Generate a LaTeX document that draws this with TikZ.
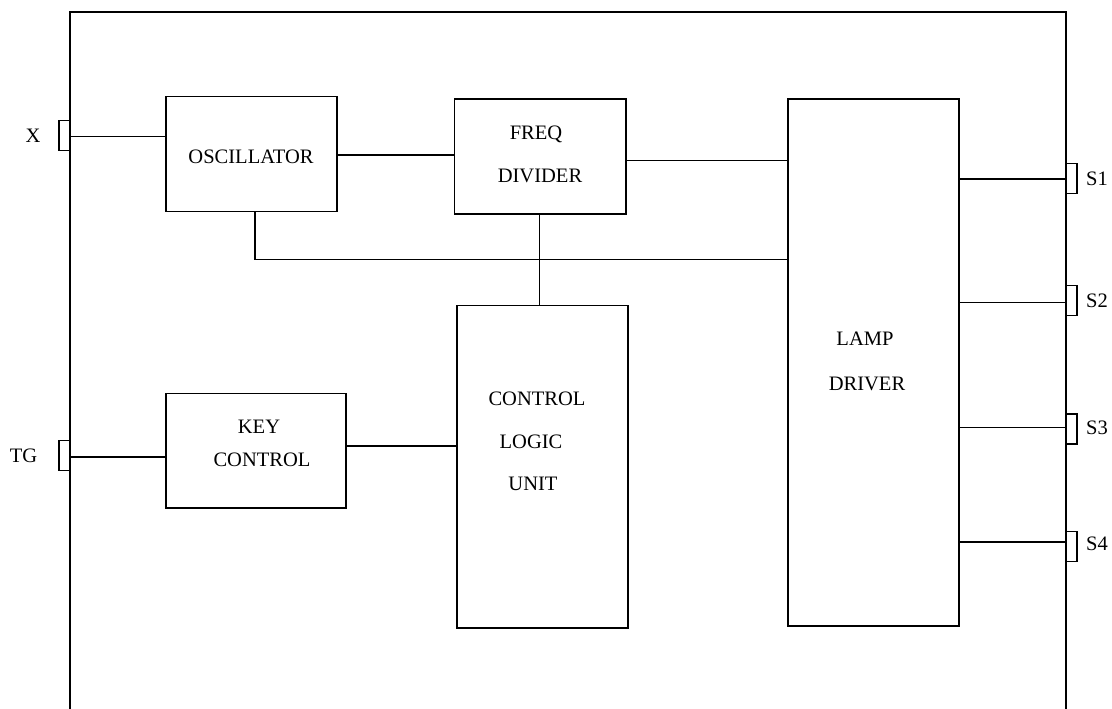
\documentclass[tikz,border=0pt]{standalone}
\usepackage{fontspec}
\setmainfont{Liberation Serif}
\usetikzlibrary{fit}
\begin{document}
\begin{tikzpicture}[x=0.75pt,y=-0.75pt,
  box/.style={draw, line width=1.2pt, inner sep=0pt, outer sep=0pt},
  pin/.style={draw, line width=1.1pt, inner sep=0pt, outer sep=0pt},
  wire/.style={line width=1.2pt},
  txt/.style={inner sep=0pt, text height=10.15pt, text depth=0pt, font=\fontsize{15.4}{18}\selectfont},
  lbl/.style={txt}]
\useasboundingbox (0,0) rectangle (1112,709);
% outer frame
\draw[line width=1.1pt] (70,712) -- (70,12) -- (1066,12) -- (1066,712);
% pins
\node[pin, fit={(59,120.7) (70,150.7)}] (xpin) {};
\node[pin, fit={(59,440.7) (70,470.7)}] (tgpin) {};
\node[pin, fit={(1066,163.3) (1077,193.3)}] (s1pin) {};
\node[pin, fit={(1066,285.7) (1077,315.7)}] (s2pin) {};
\node[pin, fit={(1066,414) (1077,444)}] (s3pin) {};
\node[pin, fit={(1066,531.7) (1077,561.7)}] (s4pin) {};
% pin labels
\node[lbl] (xl) at (33,135.5) {X};
\node[lbl] (tgl) at (23.5,455.5) {TG};
\node[lbl] (s1l) at (1097,178.5) {S1};
\node[lbl] (s2l) at (1097,301) {S2};
\node[lbl] (s3l) at (1097,428) {S3};
\node[lbl] (s4l) at (1097,544) {S4};
% boxes
\node[box, fit={(166,96.7) (337,211.7)}] (osc) {};
\node[box, fit={(454.3,99.3) (625.7,214.3)}] (freq) {};
\node[box, fit={(788,99.3) (959,626)}] (lamp) {};
\node[box, fit={(456.7,305.3) (627.7,628)}] (ctrl) {};
\node[box, fit={(166,393.3) (345.7,507.7)}] (key) {};
% box texts
\node[txt] (osct) at (251,156.5) {OSCILLATOR};
\node[txt] (freqt1) at (536,133) {FREQ};
\node[txt] (freqt2) at (540,176) {DIVIDER};
\node[txt] (lampt1) at (865,339) {LAMP};
\node[txt] (lampt2) at (867,384) {DRIVER};
\node[txt] (ctrlt1) at (537,399) {CONTROL};
\node[txt] (ctrlt2) at (531,442) {LOGIC};
\node[txt] (ctrlt3) at (533,484) {UNIT};
\node[txt] (keyt1) at (259,427) {KEY};
\node[txt] (keyt2) at (262,460) {CONTROL};
% connectors
\coordinate (bus) at (0,259.3);
\draw[wire] ([yshift=-0.75pt]xpin.east) -- ([yshift=-0.75pt]xpin.east -| osc.west);
\draw[wire] ([yshift=-0.75pt]tgpin.east) -- ([yshift=-0.75pt]tgpin.east -| key.west);
\draw[wire] ([yshift=-0.8pt]osc.east) -- ([yshift=-0.8pt]osc.east -| freq.west);
\draw[wire] ([yshift=-2.9pt]freq.east) -- ([yshift=-2.9pt]freq.east -| lamp.west);
\draw[wire] ([xshift=2.6pt]osc.south) |- (lamp.west |- bus);
\draw[wire] ([xshift=-0.5pt]freq.south) -- ([xshift=-0.5pt]freq.south |- ctrl.north);
\draw[wire] ([yshift=3.4pt]key.east) -- ([yshift=3.4pt]key.east -| ctrl.west);
\draw[wire] ([yshift=-0.75pt]s1pin.west -| lamp.east) -- ([yshift=-0.75pt]s1pin.west);
\draw[wire] ([yshift=-1.2pt]s2pin.west -| lamp.east) -- ([yshift=-1.2pt]s2pin.west);
\draw[wire] ([yshift=1.2pt]s3pin.west -| lamp.east) -- ([yshift=1.2pt]s3pin.west);
\draw[wire] ([yshift=3.7pt]s4pin.west -| lamp.east) -- ([yshift=3.7pt]s4pin.west);
\end{tikzpicture}
\end{document}
